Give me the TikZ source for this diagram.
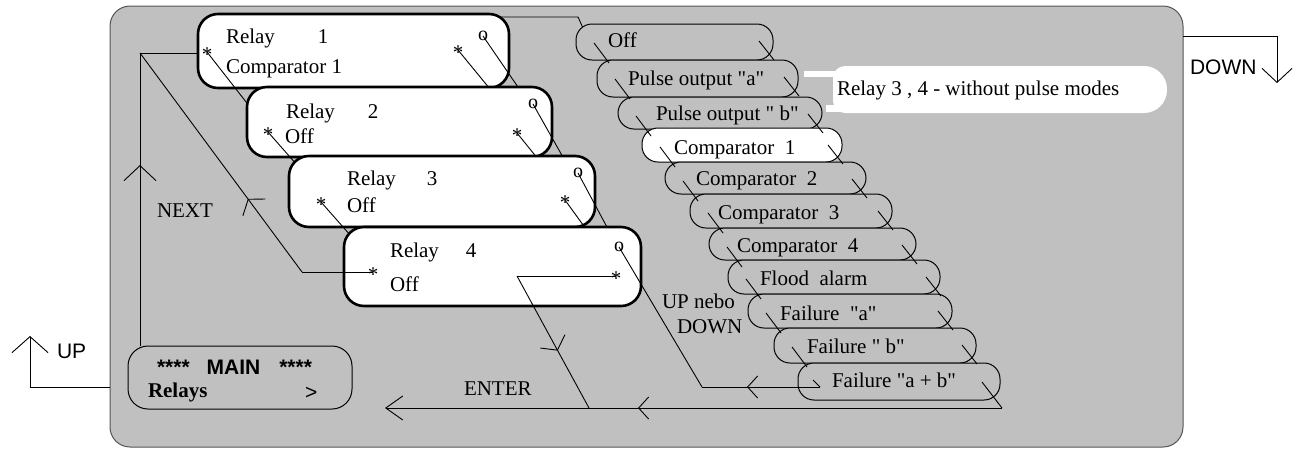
\documentclass[tikz,border=0pt]{standalone}
\usepackage{fontspec}
\defaultfontfeatures[\rmfamily,\sffamily]{}
\setmainfont{Liberation Serif}
\setsansfont{Liberation Sans}
\usetikzlibrary{arrows.meta,decorations.markings}
\definecolor{bg}{HTML}{C0C0C0}
\definecolor{frameline}{HTML}{555555}
\newcommand{\myfs}{\fontsize{21}{25}\selectfont}
\newcommand{\stk}{\raisebox{-9.8pt}[0pt][0pt]{*}}
\newcommand{\omk}{{\fontsize{20}{22}\selectfont\raisebox{-4.5pt}[0pt][0pt]{o}}}
\tikzset{
  tipbig/.tip={Straight Barb[length=15pt,width=32pt]},
  tipmid/.tip={Straight Barb[length=10pt,width=28pt]},
  tipsm/.tip={Straight Barb[length=10pt,width=22pt]},
  tipend/.tip={Straight Barb[length=17pt,width=24pt]},
  tipup/.tip={Straight Barb[length=16pt,width=36pt]},
  tipdn/.tip={Straight Barb[length=14pt,width=30pt]},
}
\begin{document}
\begin{tikzpicture}[x=1pt, y=-1pt,
  every node/.style={inner sep=0pt, outer sep=0pt},
  txt/.style={font=\myfs, anchor=base west},
  sanstxt/.style={font=\myfs\sffamily, anchor=base west},
  relaybox/.style={draw=black, line width=2.6pt, fill=white, rounded corners=20pt, anchor=north west},
  pill/.style={draw=black, line width=1pt, fill=bg, rounded corners=16pt, anchor=north west, minimum height=#1},
  mk/.style={font=\myfs, anchor=center},
  wire/.style={line width=0.9pt, draw=black},
  marrow/.style 2 args={postaction={decorate, decoration={markings, mark=at position #1 with {\arrow{#2}}}}},
]
\useasboundingbox (0,0) rectangle (1293,448);

% frame
\node[draw=frameline, line width=1pt, fill=bg, rounded corners=20pt, anchor=north west,
      minimum width=1073pt, minimum height=441pt] (frame) at (110,6) {};

% main menu box
\node[draw=black, line width=1pt, fill=bg, rounded corners=20pt, anchor=north west,
      minimum width=224pt, minimum height=63pt] (main) at (128,346) {};
\node[sanstxt, font=\myfs\sffamily\bfseries] (maintitle) at (157,374) {****\hspace{17pt}MAIN\hspace{19pt}****};
\node[txt, font=\myfs\bfseries] (mainitem) at (148,397) {Relays};
\node[sanstxt] (maingt) at (305,399) {>};

% note
\fill[white] (804,71) rectangle (845,77);
\fill[white] (826,105) rectangle (845,112);
\path[fill=white] (900,113) [rounded corners=12pt] -- (833,113) -- (833,66) -- (900,66)
      [rounded corners=23pt] -- (1167,66) -- (1167,113) -- cycle;
\node[txt] (notetxt) at (837,95) {Relay 3 , 4 - without pulse modes};

% top connector
\coordinate (t1) at (495,17);
\coordinate (t2) at (578,17);
\coordinate (t3) at (583,28);
\draw[wire] (t1) -- (t2) -- (t3);

% pills
\node[pill=36pt, minimum width=197pt] (p1) at (576,24) {};
\node[pill=37pt, minimum width=201pt] (p2) at (597,60) {};
\node[pill=32pt, minimum width=204pt] (p3) at (618,97) {};
\node[pill=34pt, minimum width=200pt, fill=white] (p4) at (642,128) {};
\node[pill=32pt, minimum width=201pt] (p5) at (665,162) {};
\node[pill=34pt, minimum width=202pt] (p6) at (690,194) {};
\node[pill=32pt, minimum width=207pt] (p7) at (709,228) {};
\node[pill=34pt, minimum width=212pt] (p8) at (728,260) {};
\node[pill=34pt, minimum width=204pt] (p9) at (748,294) {};
\node[pill=35pt, minimum width=202pt] (p10) at (774,328) {};
\node[pill=37pt, minimum width=202pt] (p11) at (798,363) {};

\node[txt] (p1t) at (608,47) {Off};
\node[txt] (p2t) at (628,85) {Pulse output "a"};
\node[txt] (p3t) at (656,120) {Pulse output " b"};
\node[txt] (p4t) at (674,154) {Comparator\ \ 1};
\node[txt] (p5t) at (696,185) {Comparator\ \ 2};
\node[txt] (p6t) at (718,219) {Comparator\ \ 3};
\node[txt] (p7t) at (737,252) {Comparator\ \ 4};
\node[txt] (p8t) at (760,285) {Flood\ \ alarm};
\node[txt] (p9t) at (780,320) {Failure\ \ "a"};
\node[txt] (p10t) at (807,353) {Failure " b"};
\node[txt] (p11t) at (832,387) {Failure "a + b"};

\foreach \i in {1,...,10}{
  \draw[wire] ([shift={(18,19)}]p\i.north west) -- ([shift={(33,39)}]p\i.north west);
  \draw[wire] ([shift={(-14,17)}]p\i.north east) -- ([shift={(1,36)}]p\i.north east);
}
\coordinate (udend) at ([shift={(22,24)}]p11.north west);
\draw[wire] ([shift={(15,17)}]p11.north west) -- (udend);
\coordinate (enend) at ([shift={(2,45)}]p11.north east);
\draw[wire] ([shift={(-18,19)}]p11.north east) -- (enend);

% relay 1
\node[relaybox, minimum width=311pt, minimum height=74pt] (r1) at (198,14) {};
\node[txt] (r1a) at (226,43) {Relay\hspace{43pt}1};
\node[txt] (r1b) at (226,73) {Comparator 1};
\node[mk] (s1l) at (207,52) {\stk};
\node[mk] (s1r) at (458,50) {\stk};
\node[mk] (o1) at (483,36) {\omk};
\coordinate (h1l) at (250,107);
\coordinate (h1r) at (490,89);
\coordinate (h1o) at (520,90);
\draw[wire] (s1l.center) -- (h1l);
\draw[wire] (s1r.center) -- (h1r);
\draw[wire] (o1.center) -- (h1o);

% relay 2
\node[relaybox, minimum width=305pt, minimum height=70pt] (r2) at (247,87) {};
\node[txt] (r2a) at (286,118) {Relay\hspace{33pt}2};
\node[txt] (r2b) at (285,143) {Off};
\node[mk] (s2l) at (268,132) {\stk};
\node[mk] (s2r) at (517,133) {\stk};
\node[mk] (o2) at (533,104) {\omk};
\coordinate (h2l) at (297,165);
\coordinate (h2r) at (538,159);
\coordinate (h2o) at (564,159);
\draw[wire] (s2l.center) -- (h2l);
\draw[wire] (s2r.center) -- (h2r);
\draw[wire] (o2.center) -- (h2o);

% relay 3
\node[relaybox, minimum width=306pt, minimum height=71pt] (r3) at (289,156) {};
\node[txt] (r3a) at (347,185) {Relay\hspace{31pt}3};
\node[txt] (r3b) at (347,212) {Off};
\node[mk] (s3l) at (321,202) {\stk};
\node[mk] (s3r) at (565,200) {\stk};
\node[mk] (o3) at (578,173) {\omk};
\coordinate (h3l) at (351,236);
\coordinate (h3r) at (586,229);
\coordinate (h3o) at (608,229);
\draw[wire] (s3l.center) -- (h3l);
\draw[wire] (s3r.center) -- (h3r);
\draw[wire] (o3.center) -- (h3o);

% relay 4
\node[relaybox, minimum width=297pt, minimum height=79pt] (r4) at (344,227) {};
\node[txt] (r4a) at (390,257) {Relay\hspace{27pt}4};
\node[txt] (r4b) at (390,291) {Off};
\node[mk] (s4l) at (373,272) {\stk};
\node[mk] (s4r) at (616,276) {\stk};
\node[mk] (o4) at (619,247) {\omk};

% NEXT
\coordinate (nx1) at (302,272);
\coordinate (nx2) at (140,53);
\draw[wire] (s4l.center) -- (nx1);
\draw[wire, marrow={91pt}{tipmid}] (nx1) -- (nx2);
\draw[wire] (nx2) -- (nx2 -| r1.west);
\draw[wire, marrow={181pt}{tipbig}] (main.north -| nx2) -- (nx2);
\node[txt] (nextlbl) at (157,217) {NEXT};

% ENTER
\coordinate (ent1) at (517,276);
\coordinate (ent2) at (589,408);
\coordinate (entl) at (385,408);
\draw[wire] (s4r.center) -- (ent1);
\draw[wire, marrow={85pt}{tipmid}] (ent1) -- (ent2);
\draw[wire, -{tipend}, marrow={364pt}{tipsm}] (enend) -- (entl);
\node[txt] (enterlbl) at (464,395) {ENTER};

% UP nebo DOWN
\coordinate (ud1) at (702,387);
\draw[wire, marrow={73pt}{tipsm}] (udend) -- (ud1);
\draw[wire] (ud1) -- (o4.center);
\node[font=\myfs, align=left, anchor=north west] (udlbl) at (662,294) {UP nebo\\\hspace*{15pt}DOWN};

% outer UP / DOWN
\coordinate (upc) at (30,387);
\coordinate (uptop) at (30,336);
\draw[wire, -{tipup}] (frame.west |- upc) -- (upc) -- (uptop);
\node[sanstxt] (uplbl) at (57,358) {UP};
\coordinate (dnc) at (1277,36);
\coordinate (dnbot) at (1277,83);
\draw[wire, -{tipdn}] (frame.east |- dnc) -- (dnc) -- (dnbot);
\node[sanstxt] (dnlbl) at (1190,74) {DOWN};
\end{tikzpicture}
\end{document}
